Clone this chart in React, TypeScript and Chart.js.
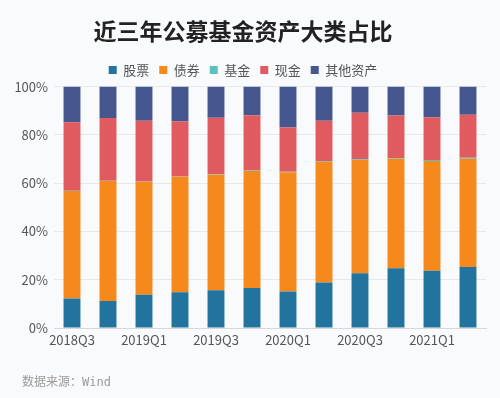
import React, { useEffect, useRef } from "react";
import { Chart, registerables } from "chart.js";

Chart.register(...registerables);

const categories = ["2018Q3", "2018Q4", "2019Q1", "2019Q2", "2019Q3", "2019Q4", "2020Q1", "2020Q2", "2020Q3", "2020Q4", "2021Q1", "2021Q2"];
const stock = [12.2, 11.2, 13.8, 14.8, 15.6, 16.6, 15.1, 18.8, 22.7, 24.8, 23.7, 25.3];
const bond = [44.6, 49.7, 46.8, 47.9, 47.9, 48.4, 49.4, 50.1, 46.9, 45.3, 45.5, 44.8];
const fund = [0.1, 0.1, 0.1, 0.1, 0.2, 0.2, 0.2, 0.3, 0.3, 0.3, 0.4, 0.4];
const cash = [28.3, 26.0, 25.2, 22.7, 23.4, 22.9, 18.4, 16.7, 19.3, 17.6, 17.7, 17.8];
const other = [14.8, 13.0, 14.1, 14.5, 12.9, 11.9, 16.9, 14.1, 10.8, 12.0, 12.7, 11.7];
const yTicks = [0, 20, 40, 60, 80, 100];

const seriesNames = ["股票", "债券", "基金", "现金", "其他资产"];
const seriesColors = ["#22749f", "#f5891b", "#5cbfc0", "#e05b5f", "#46568e"];
const titleText = "近三年公募基金资产大类占比";
const sourceText = "数据来源：Wind";

const BG = "#f9fafc";
const FONT = "'Noto Sans CJK SC', 'Noto Sans', sans-serif";

export default function App() {
  const ref = useRef<HTMLCanvasElement | null>(null);

  useEffect(() => {
    document.body.style.margin = "0";
    const ctx = ref.current!;
    const seriesData = [stock, bond, fund, cash, other];

    const footerPlugin = {
      id: "footer",
      afterDraw(chart: any) {
        const c = chart.ctx;
        c.save();
        c.fillStyle = "#9a9a9a";
        c.font = "12px 'DejaVu Sans Mono', 'Noto Sans CJK SC', monospace";
        c.textBaseline = "middle";
        c.textAlign = "left";
        c.fillText(sourceText, 22, 383);
        c.restore();
      },
    };

    const bgPlugin = {
      id: "bg",
      beforeDraw(chart: any) {
        const c = chart.ctx;
        c.save();
        c.fillStyle = BG;
        c.fillRect(0, 0, chart.width, chart.height);
        c.restore();
      },
    };

    const chart = new Chart(ctx, {
      type: "bar",
      data: {
        labels: categories,
        datasets: seriesNames.map((name, i) => ({
          label: name,
          data: seriesData[i],
          backgroundColor: seriesColors[i],
          borderWidth: 0,
          categoryPercentage: 1,
          barPercentage: 0.47,
        })),
      },
      options: {
        animation: false,
        responsive: false,
        devicePixelRatio: 1,
        layout: { padding: { left: 0, right: 14, top: 0, bottom: 40 } },
        plugins: {
          title: {
            display: true,
            text: titleText,
            color: "#222222",
            font: { family: FONT, size: 23, weight: "bold" },
            padding: { top: 17, bottom: 9 },
          },
          legend: {
            display: true,
            position: "top",
            labels: {
              color: "#555555",
              font: { family: FONT, size: 13 },
              boxWidth: 8,
              boxHeight: 8,
              padding: 10,
            },
          },
          tooltip: { enabled: false },
        },
        scales: {
          x: {
            stacked: true,
            grid: { display: false, drawTicks: false },
            border: { display: true, color: "#d8d8d8" },
            ticks: {
              color: "#555555",
              font: { family: FONT, size: 13 },
              maxRotation: 0,
              autoSkip: false,
              padding: 4,
              callback: (_v: any, i: number) => (i % 2 === 0 ? categories[i] : ""),
            },
            afterFit: (s: any) => {
              s.height = 30;
            },
          },
          y: {
            stacked: true,
            min: 0,
            max: 100,
            afterBuildTicks: (s: any) => {
              s.ticks = yTicks.map((v) => ({ value: v }));
            },
            grid: { color: "#e8e8e8", drawTicks: false },
            border: { display: false },
            ticks: {
              color: "#555555",
              font: { family: FONT, size: 13 },
              padding: 6,
              callback: (v: any) => v + "%",
            },
            afterFit: (s: any) => {
              s.width = 54;
            },
          },
        },
      },
      plugins: [bgPlugin, footerPlugin],
    } as any);

    return () => chart.destroy();
  }, []);

  return (
    <div style={{ position: "absolute", left: 0, top: 0, width: 500, height: 398, background: BG }}>
      <canvas ref={ref} width={500} height={398} style={{ width: 500, height: 398 }} />
    </div>
  );
}
